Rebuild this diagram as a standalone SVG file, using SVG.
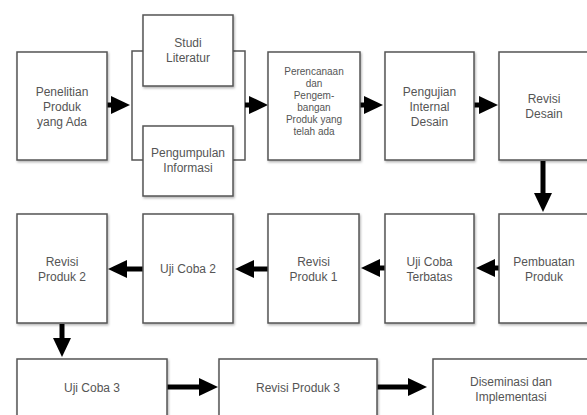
<svg xmlns="http://www.w3.org/2000/svg" width="587" height="415" viewBox="0 0 587 415">
<defs>
<style>
.box{fill:#fff;stroke:#555;stroke-width:1.5;filter:url(#sh)}
.br{fill:none;stroke:#555;stroke-width:1.5}
.t{font-family:"Liberation Sans",Arial,sans-serif;font-size:12px;fill:#555;text-anchor:middle}
.s{font-size:10px}
.c{stroke:#000;stroke-width:5;fill:none;marker-end:url(#ah)}
</style>
<filter id="sh" x="-10%" y="-10%" width="130%" height="130%">
<feDropShadow dx="1" dy="1.5" stdDeviation="1" flood-color="#000" flood-opacity="0.3"/>
</filter>
<marker id="ah" markerUnits="userSpaceOnUse" markerWidth="20" markerHeight="18" refX="1" refY="9" orient="auto" viewBox="0 0 20 18">
<path d="M0,0 L19,9 L0,18 z" fill="#000"/>
</marker>
</defs>
<rect width="587" height="415" fill="#fff"/>
<g id="connectors">
<path class="br" d="M143,51 H132 V160 H143 M233,51 H245 V160 H233"/>
<line class="c" x1="107" y1="105" x2="112" y2="105"/>
<line class="c" x1="245" y1="105" x2="250" y2="105"/>
<line class="c" x1="360" y1="105" x2="365" y2="105"/>
<line class="c" x1="474" y1="105" x2="480" y2="105"/>
<line class="c" x1="543" y1="161" x2="543" y2="194"/>
<line class="c" x1="499" y1="268" x2="494" y2="268"/>
<line class="c" x1="385" y1="268" x2="379" y2="268"/>
<line class="c" x1="268" y1="269" x2="253" y2="269"/>
<line class="c" x1="143" y1="269" x2="126" y2="269"/>
<line class="c" x1="62" y1="324" x2="62" y2="339"/>
<line class="c" x1="167" y1="387" x2="200" y2="387"/>
<line class="c" x1="377" y1="387" x2="409" y2="387"/>
</g>
<g id="penelitian"><rect class="box" x="17" y="52" width="90" height="108"/><text class="t" x="62" y="96">Penelitian<tspan x="62" dy="15">Produk</tspan><tspan x="62" dy="15">yang Ada</tspan></text></g>
<g id="studi"><rect class="box" x="143" y="15" width="90" height="71"/><text class="t" x="188" y="47">Studi<tspan x="188" dy="15">Literatur</tspan></text></g>
<g id="pengumpulan"><rect class="box" x="143" y="126" width="90" height="70"/><text class="t" x="188" y="157">Pengumpulan<tspan x="188" dy="15">Informasi</tspan></text></g>
<g id="perencanaan"><rect class="box" x="268" y="52" width="92" height="108"/><text class="t s" x="314" y="74.5">Perencanaan<tspan x="314" dy="12">dan</tspan><tspan x="314" dy="12">Pengem-</tspan><tspan x="314" dy="12">bangan</tspan><tspan x="314" dy="12">Produk yang</tspan><tspan x="314" dy="12">telah ada</tspan></text></g>
<g id="pengujian"><rect class="box" x="385" y="52" width="89" height="108"/><text class="t" x="429.5" y="96">Pengujian<tspan x="429.5" dy="15">Internal</tspan><tspan x="429.5" dy="15">Desain</tspan></text></g>
<g id="revisi-desain"><rect class="box" x="499" y="52" width="92" height="108"/><text class="t" x="544" y="103">Revisi<tspan x="544" dy="15">Desain</tspan></text></g>
<g id="pembuatan"><rect class="box" x="499" y="214" width="92" height="109"/><text class="t" x="544" y="266">Pembuatan<tspan x="544" dy="15">Produk</tspan></text></g>
<g id="uji-terbatas"><rect class="box" x="385" y="214" width="89" height="109"/><text class="t" x="429.5" y="266">Uji Coba<tspan x="429.5" dy="15">Terbatas</tspan></text></g>
<g id="revisi1"><rect class="box" x="268" y="214" width="91" height="109"/><text class="t" x="313.5" y="266">Revisi<tspan x="313.5" dy="15">Produk 1</tspan></text></g>
<g id="uji2"><rect class="box" x="143" y="214" width="90" height="109"/><text class="t" x="188" y="273">Uji Coba 2</text></g>
<g id="revisi2"><rect class="box" x="17" y="214" width="90" height="109"/><text class="t" x="62" y="266">Revisi<tspan x="62" dy="15">Produk 2</tspan></text></g>
<g id="uji3"><rect class="box" x="17" y="359" width="150" height="70"/><text class="t" x="92" y="392">Uji Coba 3</text></g>
<g id="revisi3"><rect class="box" x="219" y="359" width="158" height="70"/><text class="t" x="298" y="392">Revisi Produk 3</text></g>
<g id="diseminasi"><rect class="box" x="433" y="359" width="158" height="70"/><text class="t" x="511" y="386">Diseminasi dan<tspan x="511" dy="15">Implementasi</tspan></text></g>
</svg>
